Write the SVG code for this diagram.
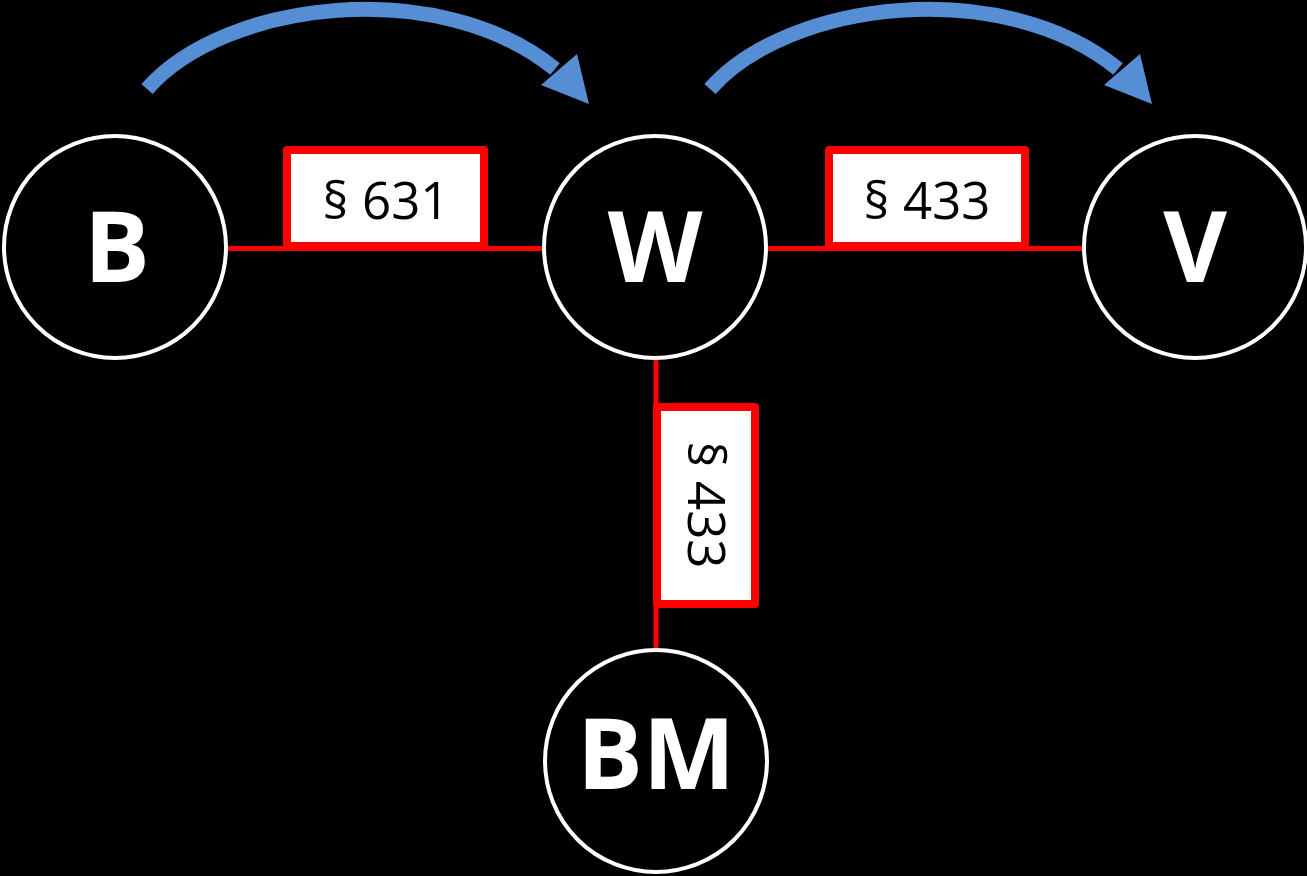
<svg xmlns="http://www.w3.org/2000/svg" width="1307" height="876" viewBox="0 0 1307 876">
<style>
.node{fill:#000;stroke:#fff;stroke-width:4}
.ntext{fill:#fff;font-family:"Open Sans","Liberation Sans",sans-serif;font-weight:bold;font-size:98px;text-anchor:middle}
.wire{stroke:#f00;stroke-width:5;fill:none}
.lbox{fill:#fff;stroke:#f00;stroke-width:8;stroke-linejoin:round}
.ltext{fill:#000;font-family:"Open Sans","Liberation Sans",sans-serif;font-size:51px;text-anchor:middle}
.arc{stroke:#558ED5;stroke-width:15;fill:none}
.head{fill:#558ED5}
</style>
<rect x="0" y="0" width="1307" height="876" fill="#000"/>
<g id="connectors">
<line class="wire" x1="226" y1="248.5" x2="545" y2="248.5"/>
<line class="wire" x1="766" y1="248.5" x2="1086" y2="248.5"/>
<line class="wire" x1="656" y1="358" x2="656" y2="651"/>
<rect class="lbox" x="287" y="150" width="197" height="96"/>
<text class="ltext" x="386" y="219">§ 631</text>
<rect class="lbox" x="829" y="150" width="196" height="96"/>
<text class="ltext" x="927" y="219">§ 433</text>
<rect class="lbox" x="657" y="407" width="98" height="197"/>
<text class="ltext" transform="translate(706,505) rotate(90)" x="0" y="18">§ 433</text>
<path class="arc" d="M147,89 C225,0 440,-25 555,69"/>
<polygon class="head" points="541,85 577,54 589,104"/>
<path class="arc" d="M710,89 C788,0 1003,-25 1118,69"/>
<polygon class="head" points="1104,85 1140,54 1152,104"/>
</g>
<g id="node-B">
<circle class="node" cx="115" cy="247" r="111"/>
<text class="ntext" x="117" y="282">B</text>
</g>
<g id="node-W">
<circle class="node" cx="655" cy="247" r="111"/>
<text class="ntext" x="655" y="282">W</text>
</g>
<g id="node-V">
<circle class="node" cx="1195" cy="247" r="111"/>
<text class="ntext" x="1195" y="282">V</text>
</g>
<g id="node-BM">
<circle class="node" cx="656" cy="761" r="111"/>
<text class="ntext" x="656" y="789">BM</text>
</g>
</svg>
